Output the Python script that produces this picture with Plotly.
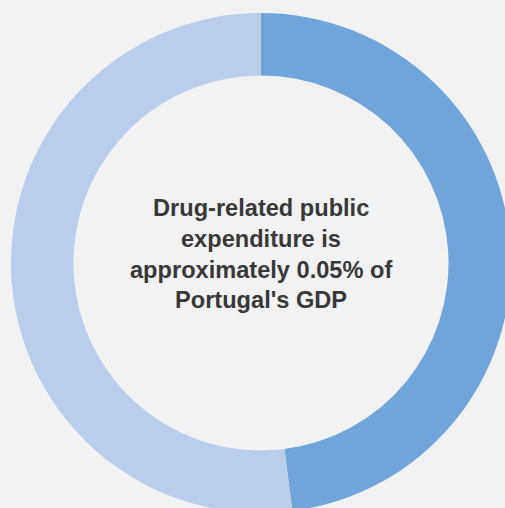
import plotly.graph_objects as go

# Share of drug-related public expenditure split
labels = ["Share A", "Share B"]
values = [48, 52]
colors = ["#6fa5da", "#bacdeb"]

caption_lines = [
    "Drug-related public",
    "expenditure is",
    "approximately 0.05% of",
    "Portugal's GDP",
]

W, H = 521, 526
ML, MR, MT, MB = 11, 10, 13, 13

fig = go.Figure(
    go.Pie(
        labels=labels,
        values=values,
        hole=0.75,
        sort=False,
        direction="clockwise",
        rotation=0,
        marker=dict(colors=colors, line=dict(width=0)),
        textinfo="none",
        hoverinfo="label+percent",
        showlegend=False,
        domain=dict(x=[0, 1], y=[0, 1]),
    )
)

# caption lines, placed by pixel offset from top of the plot area
line_px = [208, 239, 270, 300]
plot_h = H - MT - MB
plot_w = W - ML - MR
for text, py in zip(caption_lines, line_px):
    fig.add_annotation(
        text=f"<b>{text}</b>",
        x=(261 - ML) / plot_w,
        y=1 - (py - MT) / plot_h,
        xref="paper",
        yref="paper",
        showarrow=False,
        xanchor="center",
        yanchor="middle",
        font=dict(family="Liberation Sans, Arial, sans-serif", size=23.6, color="#383838"),
    )

fig.update_layout(
    width=W,
    height=H,
    margin=dict(l=ML, r=MR, t=MT, b=MB, pad=0),
    paper_bgcolor="#f2f2f2",
    plot_bgcolor="#f2f2f2",
)

fig.write_html(
    "out.html",
    config={"displayModeBar": False},
    post_script="document.documentElement.style.overflow='hidden';document.body.style.overflow='hidden';document.body.style.margin='0';",
)
